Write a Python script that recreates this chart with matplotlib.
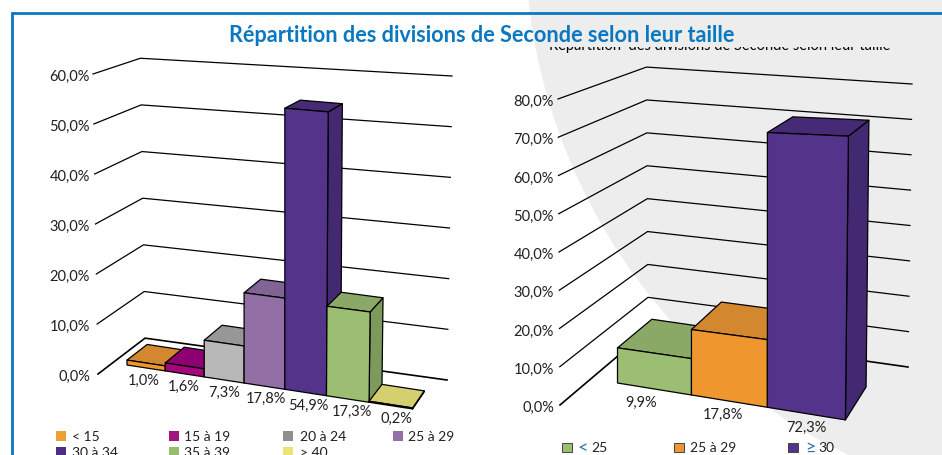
import matplotlib
matplotlib.use('Agg')
import matplotlib.pyplot as plt
from matplotlib.patches import Circle, Polygon, Rectangle

TITLE = 'Répartition des divisions de Seconde selon leur taille'
SUBTITLE = 'Répartition  des divisions de Seconde selon leur taille'

# left chart
left_labels = ['< 15', '15 à 19', '20 à 24', '25 à 29', '30 à 34', '35 à 39', '> 40']
left_values = [1.0, 1.6, 7.3, 17.8, 54.9, 17.3, 0.2]
left_ticks = [0, 10, 20, 30, 40, 50, 60]
left_front = ['#F0962F', '#A5087B', '#B8B8B8', '#9270A5', '#53348A', '#9CBE72', '#E6DF78']
left_top = ['#D38830', '#8E0071', '#979797', '#7F6494', '#462A75', '#8AA866', '#D4D070']
left_side = ['#C47E2A', '#7E0065', '#858585', '#6F5682', '#432971', '#7C9A5C', '#BDB95F']
left_legend = ['#F0A030', '#A0157F', '#8F8F8F', '#9470A8', '#4F2D85', '#98BC6E', '#ECE477']

# right chart
right_labels = ['< 25', '25 à 29', '≥30']
right_values = [9.9, 17.8, 72.3]
right_ticks = [0, 10, 20, 30, 40, 50, 60, 70, 80]
right_front = ['#9CBE72', '#F0962F', '#53348A']
right_top = ['#8AA866', '#D38830', '#462A75']
right_side = ['#7C9A5C', '#C47E2A', '#432971']

BLUE = '#0A78C0'
TEXT = '#231F20'
FONT = 'Lato'

LEFT_GEOM = dict(
    vp=(800, -160), wall_t=0.067, bar_t=0.03,
    front=((98, 375), (93, 75)), right=((447, 381), (452, 77)),
    bar_x=127, bar_y=366, step=37.8, persp=0.0105, slope=0.154,
    unit=(4.92, 0.05), lean=0.006, lean_from=4, label=(1.3, 2, 12),
    tick_x=90, tick_dy=2,
)
RIGHT_GEOM = dict(
    vp=(1190, -128), wall_t=0.14, bar_t=0.06,
    front=((560, 406), (558, 100)), right=((908, 368), (912, 85)),
    bar_x=617.5, bar_y=384, step=73, persp=0.013, slope=0.162,
    unit=(3.55, 0.125), lean=0.0106, lean_from=2, label=(6.5, 2, 13),
    tick_x=554, tick_dy=2,
)


def toward_vp(point, vp, t):
    return (point[0] + t * (vp[0] - point[0]), point[1] + t * (vp[1] - point[1]))


def draw_chart(ax, values, ticks, front, top, side, geom):
    (f0, f1), (r0, r1) = geom['front'], geom['right']
    top_tick = ticks[-1]

    for tick in ticks:
        s = tick / top_tick
        start = (f0[0] + s * (f1[0] - f0[0]), f0[1] + s * (f1[1] - f0[1]))
        end = (r0[0] + s * (r1[0] - r0[0]), r0[1] + s * (r1[1] - r0[1]))
        corner = toward_vp(start, geom['vp'], geom['wall_t'])
        ax.plot([start[0], corner[0], end[0]], [start[1], corner[1], end[1]],
                color='black', lw=0.9 if tick else 1.2, solid_joinstyle='miter', zorder=1)
        ax.text(geom['tick_x'], start[1] + geom['tick_dy'], f'{tick:.1f}%'.replace('.', ','),
                ha='right', va='center', fontsize=10.5, family=FONT, color=TEXT)

    def floor(i):
        x = geom['step'] * i / (1 - geom['persp'] * i)
        return geom['bar_x'] + x, geom['bar_y'] + geom['slope'] * x

    def raised(i, value):
        x, y = floor(i)
        h = value * (geom['unit'][0] + geom['unit'][1] * i)
        return x + geom['lean'] * h * max(0, i - geom['lean_from']), y - h

    for i, value in enumerate(values):
        bl, br = floor(i), floor(i + 1)
        tl, tr = raised(i, value), raised(i + 1, value)
        back = lambda p: toward_vp(p, geom['vp'], geom['bar_t'])
        style = dict(ec='black', lw=0.9, joinstyle='round', zorder=2)
        ax.add_patch(Polygon([br, back(br), back(tr), tr], fc=side[i], **style))
        ax.add_patch(Polygon([tl, tr, back(tr), back(tl)], fc=top[i], **style))
        ax.add_patch(Polygon([bl, br, tr, tl], fc=front[i], **style))

        skew, center, dy = geom['label']
        ax.text((bl[0] + br[0]) / 2 + skew * (i - center), (bl[1] + br[1]) / 2 + dy,
                f'{value:.1f}%'.replace('.', ','), ha='center', va='center',
                fontsize=10.5, family=FONT, color=TEXT)


fig = plt.figure(figsize=(9.42, 4.56), dpi=100)
ax = fig.add_axes([0, 0, 1, 1])
ax.set_xlim(0, 942)
ax.set_ylim(456, 0)
ax.axis('off')

# grey disc behind the right chart, then the blue frame
ax.add_patch(Circle((1100, -61), 575, fc='#EDEDED', ec='none', zorder=0))
ax.plot([11.5, 11.5, 942], [456, 14, 14], color=BLUE, lw=2, solid_joinstyle='miter')

ax.text(482, 35, TITLE, ha='center', va='center', fontsize=15.6, fontweight='bold',
        family=FONT, color=BLUE)

# the chart's own title is mostly hidden by the page title
sub = ax.text(720, 46, SUBTITLE, ha='center', va='center', fontsize=10.5, family=FONT,
              color='black', clip_on=True)
sub.set_clip_path(Rectangle((540, 47.5), 360, 6, transform=ax.transData))

draw_chart(ax, left_values, left_ticks, left_front, left_top, left_side, LEFT_GEOM)
draw_chart(ax, right_values, right_ticks, right_front, right_top, right_side, RIGHT_GEOM)

# left legend
legend_x = [(56, 72), (169, 184), (283, 300), (393, 408)]
for i, (label, color) in enumerate(zip(left_labels, left_legend)):
    box_x, text_x = legend_x[i % 4]
    y = 437 + 16 * (i // 4)
    ax.add_patch(Rectangle((box_x, y - 5), 10, 10, fc=color, ec='none'))
    ax.text(text_x, y, label, va='center', fontsize=10, family=FONT, color=TEXT)

# right legend, the signs are blue in the source
right_legend_x = [(562, 591), (674, 690), (788, 818)]
for i, (label, color) in enumerate(zip(right_labels, right_front)):
    box_x, text_x = right_legend_x[i]
    ax.add_patch(Rectangle((box_x, 444), 9.5, 9.5, fc=color, ec='#444444', lw=0.7))
    if label[0] in '<≥':
        ax.text(text_x - 2 if label[0] == '≥' else text_x - 3, 448, label[0], ha='right', va='center',
                fontsize=13, family=['Lato', 'DejaVu Sans'], color='#2A6FA8')
        label = label[1:].strip()
    ax.text(text_x, 448.5, label, va='center', fontsize=10, family=FONT, color=TEXT)

fig.savefig('out.png', dpi=100)
